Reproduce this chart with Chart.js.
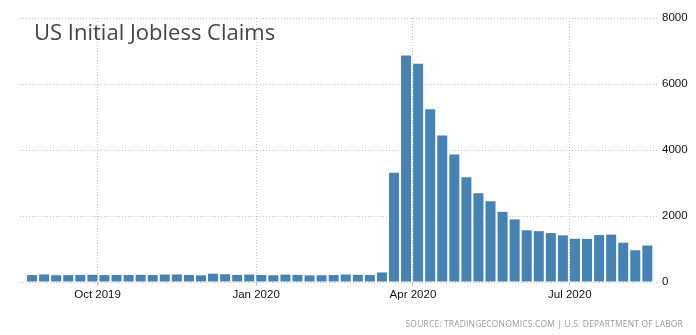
<!DOCTYPE html>
<html lang="en">
<head>
    <meta charset="UTF-8">
    <title>US Initial Jobless Claims</title>
    <script src="https://cdn.jsdelivr.net/npm/chart.js"></script>
    <style>
        html, body {
            margin: 0;
            padding: 0;
            background: #fff;
        }
        .wrap {
            position: relative;
            width: 696px;
            height: 335px;
        }
        .chart-title {
            position: absolute;
            left: 34px;
            top: 18px;
            font-family: "Open Sans", sans-serif;
            font-size: 22px;
            line-height: 26px;
            color: #444;
        }
        .chart-source {
            position: absolute;
            right: 13px;
            top: 318px;
            font-family: "Open Sans", sans-serif;
            font-size: 8.5px;
            line-height: 11px;
            letter-spacing: 0.15px;
            color: #999;
        }
    </style>
</head>
<body>
    <div class="wrap">
        <canvas id="myChart" width="696" height="335"></canvas>
        <div class="chart-title">US Initial Jobless Claims</div>
        <div class="chart-source">SOURCE: TRADINGECONOMICS.COM | U.S. DEPARTMENT OF LABOR</div>
    </div>

    <script>
        // week ending dates
        const weeks = [
            '2019-08-24', '2019-08-31', '2019-09-07', '2019-09-14', '2019-09-21', '2019-09-28',
            '2019-10-05', '2019-10-12', '2019-10-19', '2019-10-26', '2019-11-02', '2019-11-09',
            '2019-11-16', '2019-11-23', '2019-11-30', '2019-12-07', '2019-12-14', '2019-12-21',
            '2019-12-28', '2020-01-04', '2020-01-11', '2020-01-18', '2020-01-25', '2020-02-01',
            '2020-02-08', '2020-02-15', '2020-02-22', '2020-02-29', '2020-03-07', '2020-03-14',
            '2020-03-21', '2020-03-28', '2020-04-04', '2020-04-11', '2020-04-18', '2020-04-25',
            '2020-05-02', '2020-05-09', '2020-05-16', '2020-05-23', '2020-05-30', '2020-06-06',
            '2020-06-13', '2020-06-20', '2020-06-27', '2020-07-04', '2020-07-11', '2020-07-18',
            '2020-07-25', '2020-08-01', '2020-08-08', '2020-08-15'
        ];
        // thousands
        const claims = [
            211, 230, 206, 210, 215, 218,
            210, 214, 212, 218, 211, 225,
            228, 213, 203, 252, 235, 215,
            226, 214, 204, 223, 216, 202,
            205, 211, 225, 217, 211, 290,
            3307, 6867, 6615, 5237, 4442, 3867,
            3176, 2687, 2446, 2126, 1897, 1566,
            1540, 1482, 1413, 1310, 1307, 1422,
            1435, 1191, 963, 1106
        ];
        const tickDates = ['2019-10-01', '2020-01-01', '2020-04-01', '2020-07-01'];
        const tickLabels = ['Oct 2019', 'Jan 2020', 'Apr 2020', 'Jul 2020'];
        const yTicks = [0, 2000, 4000, 6000, 8000];

        const WEEK = 7 * 24 * 3600 * 1000;
        const start = Date.parse(weeks[0]);
        const toX = d => (Date.parse(d) - start) / WEEK;

        const points = weeks.map((w, i) => ({ x: toX(w), y: claims[i] }));
        const tickPos = tickDates.map(toX);

        const gridColor = '#c4c4c4';

        const ctx = document.getElementById('myChart').getContext('2d');
        const myChart = new Chart(ctx, {
            type: 'bar',
            data: {
                datasets: [{
                    label: 'Initial Jobless Claims',
                    data: points,
                    backgroundColor: '#4682b4',
                    categoryPercentage: 1,
                    barPercentage: 0.83,
                }]
            },
            options: {
                responsive: false,
                animation: false,
                layout: {
                    padding: { left: 20, top: 18, right: 0, bottom: 0 }
                },
                plugins: {
                    legend: { display: false },
                    tooltip: { enabled: false }
                },
                scales: {
                    x: {
                        type: 'linear',
                        offset: false,
                        min: -1,
                        max: 51.8,
                        afterBuildTicks: s => { s.ticks = tickPos.map(v => ({ value: v })); },
                        afterFit: s => { s.height = 53; },
                        border: { display: false, dash: [1, 2] },
                        grid: {
                            offset: false,
                            color: gridColor,
                            lineWidth: 1,
                            tickLength: 4,
                        },
                        ticks: {
                            autoSkip: false,
                            maxRotation: 0,
                            padding: 2,
                            color: '#111',
                            font: { family: 'Liberation Sans', size: 11.5 },
                            callback: v => tickLabels[tickPos.indexOf(v)]
                        }
                    },
                    y: {
                        position: 'right',
                        min: 0,
                        max: 8000,
                        afterBuildTicks: s => { s.ticks = yTicks.map(v => ({ value: v })); },
                        afterFit: s => { s.width = 39; },
                        border: { display: false, dash: [1, 2] },
                        grid: {
                            color: gridColor,
                            drawTicks: false,
                        },
                        ticks: {
                            padding: 5,
                            color: '#111',
                            font: { family: 'Liberation Sans', size: 11.5 },
                            callback: v => String(v)
                        }
                    }
                }
            }
        });
    </script>
</body>
</html>
